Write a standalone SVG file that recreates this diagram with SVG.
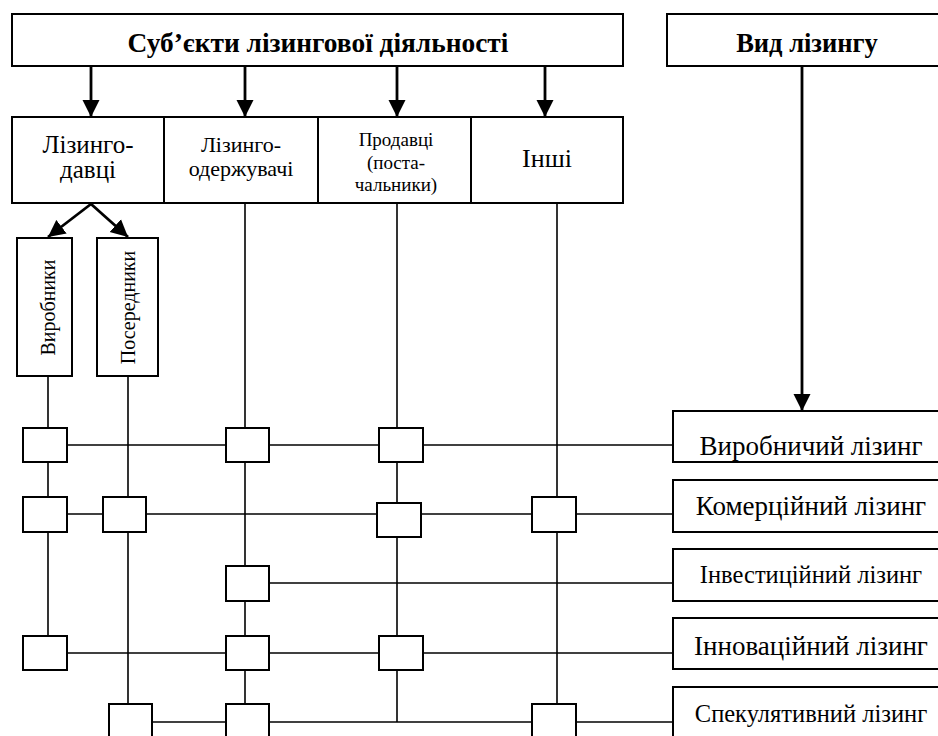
<svg xmlns="http://www.w3.org/2000/svg" width="938" height="736" viewBox="0 0 938 736">
<defs>
<style>
.box{fill:#fff;stroke:#000;stroke-width:2}
.sq{fill:#fff;stroke:#000;stroke-width:2}
.ln{fill:none;stroke:#000;stroke-width:1.6}
.ar{fill:none;stroke:#000;stroke-width:2.8}
.t{font-family:'Liberation Serif','Tinos','DejaVu Serif','Noto Serif',serif;fill:#000;text-anchor:middle}
.b{font-weight:bold}
</style>
<marker id="ah" markerUnits="userSpaceOnUse" markerWidth="18" markerHeight="18" viewBox="0 0 18 18" refX="17" refY="9" orient="auto">
<path d="M0,0.5 L17,9 L0,17.5 Z" fill="#000"/>
</marker>
</defs>
<rect width="938" height="736" fill="#fff"/>

<g id="connectors">
<line class="ar" x1="91" y1="66" x2="91" y2="117" marker-end="url(#ah)"/>
<line class="ar" x1="245" y1="66" x2="245" y2="117" marker-end="url(#ah)"/>
<line class="ar" x1="397" y1="66" x2="397" y2="117" marker-end="url(#ah)"/>
<line class="ar" x1="545" y1="66" x2="545" y2="117" marker-end="url(#ah)"/>
<line class="ar" x1="802" y1="66" x2="802" y2="411" marker-end="url(#ah)"/>
<line class="ar" x1="91" y1="204" x2="48" y2="237" marker-end="url(#ah)"/>
<line class="ar" x1="91" y1="204" x2="128" y2="237" marker-end="url(#ah)"/>
<line class="ln" x1="48" y1="376" x2="48" y2="636"/>
<line class="ln" x1="128" y1="376" x2="128" y2="704"/>
<line class="ln" x1="245" y1="203" x2="245" y2="704"/>
<line class="ln" x1="397" y1="203" x2="397" y2="722"/>
<line class="ln" x1="557" y1="203" x2="557" y2="704"/>
<line class="ln" x1="45" y1="445" x2="673" y2="445"/>
<line class="ln" x1="45" y1="514" x2="673" y2="514"/>
<line class="ln" x1="247" y1="583" x2="673" y2="583"/>
<line class="ln" x1="45" y1="653" x2="673" y2="653"/>
<line class="ln" x1="131" y1="722" x2="673" y2="722"/>
</g>

<g id="subjects">
<rect class="box" x="12" y="14" width="611" height="52"/>
<text class="t b" x="318" y="52" font-size="27.4">Суб’єкти лізингової діяльності</text>
</g>
<g id="vid">
<rect class="box" x="667" y="14" width="290" height="52"/>
<text class="t b" x="807" y="52" font-size="26.5">Вид лізингу</text>
</g>

<g id="lizynhodavtsi">
<rect class="box" x="12" y="117" width="152" height="86"/>
<text class="t" x="88" y="153" font-size="25">Лізинго-</text>
<text class="t" x="88" y="178" font-size="25">давці</text>
</g>
<g id="lizynhooderzhuvachi">
<rect class="box" x="164" y="117" width="154" height="86"/>
<text class="t" x="241" y="152" font-size="22">Лізинго-</text>
<text class="t" x="241" y="176" font-size="22">одержувачі</text>
</g>
<g id="prodavtsi">
<rect class="box" x="318" y="117" width="153" height="86"/>
<text class="t" x="396" y="146" font-size="19">Продавці</text>
<text class="t" x="396" y="169" font-size="19">(поста-</text>
<text class="t" x="396" y="191" font-size="19">чальники)</text>
</g>
<g id="inshi">
<rect class="box" x="471" y="117" width="152" height="86"/>
<text class="t" x="547" y="167" font-size="26">Інші</text>
</g>

<g id="vyrobnyky">
<rect class="box" x="17" y="238" width="55" height="138"/>
<text class="t" transform="translate(55,307.5) rotate(-90)" font-size="20">Виробники</text>
</g>
<g id="poserednyky">
<rect class="box" x="97" y="238" width="61" height="138"/>
<text class="t" transform="translate(135,307.5) rotate(-90)" font-size="20">Посередники</text>
</g>

<g id="v1"><rect class="box" x="673" y="411" width="280" height="51"/><text class="t" x="811" y="455" font-size="27">Виробничий лізинг</text></g>
<g id="v2"><rect class="box" x="673" y="480" width="280" height="52"/><text class="t" x="811" y="515" font-size="27">Комерційний лізинг</text></g>
<g id="v3"><rect class="box" x="673" y="549" width="280" height="52"/><text class="t" x="811" y="583" font-size="24.5">Інвестиційний лізинг</text></g>
<g id="v4"><rect class="box" x="673" y="618" width="280" height="51"/><text class="t" x="811" y="655" font-size="27">Інноваційний лізинг</text></g>
<g id="v5"><rect class="box" x="673" y="687" width="280" height="60"/><text class="t" x="811" y="722" font-size="24.5">Спекулятивний лізинг</text></g>

<g id="cells">
<rect class="sq" x="23" y="428" width="44" height="34"/>
<rect class="sq" x="226" y="428" width="43" height="34"/>
<rect class="sq" x="379" y="428" width="44" height="34"/>
<rect class="sq" x="23" y="497" width="44" height="35"/>
<rect class="sq" x="103" y="497" width="43" height="35"/>
<rect class="sq" x="377" y="503" width="44" height="34"/>
<rect class="sq" x="532" y="497" width="44" height="35"/>
<rect class="sq" x="226" y="566" width="43" height="35"/>
<rect class="sq" x="23" y="636" width="44" height="34"/>
<rect class="sq" x="226" y="636" width="43" height="34"/>
<rect class="sq" x="379" y="636" width="44" height="34"/>
<rect class="sq" x="109" y="704" width="43" height="40"/>
<rect class="sq" x="226" y="704" width="43" height="40"/>
<rect class="sq" x="532" y="704" width="44" height="40"/>
</g>
</svg>
